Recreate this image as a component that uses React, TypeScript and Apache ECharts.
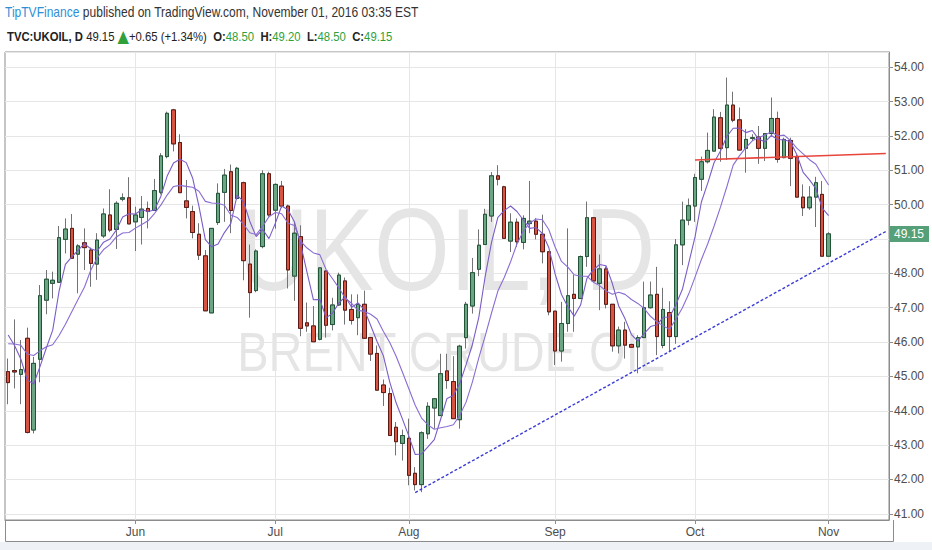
import React, { useEffect, useRef } from "react";
import * as echarts from "echarts";

// ---- data ----
const opens = [
  45.14, 45.17, 45.06, 46.11, 43.44, 45.5, 47.22, 47.71, 47.74, 48.99,
  49.31, 48.56, 48.89, 48.68, 48.27, 49.09, 49.7, 49.28, 50.16, 50.2,
  49.5, 49.63, 49.89, 49.83, 50.36, 51.4, 52.76, 51.81, 50.11, 49.8,
  49.14, 48.51, 46.85, 49.48, 50.36, 50.96, 50.18, 50.64, 48.27, 47.5,
  48.78, 50.9, 49.84, 50.54, 49.96, 47.92, 49.07, 46.56, 46.47, 46.08,
  48.07, 46.51, 47.08, 47.78, 46.95, 46.71, 47.1, 46.13, 45.67, 44.75,
  44.5, 43.52, 43.05, 43.2, 42.18, 41.85, 43.33, 44.08, 43.86, 45.16,
  44.85, 43.74, 46.13, 47.05, 48.12, 48.84, 49.67, 50.84, 50.52, 48.94,
  49.49, 48.9, 49.45, 49.52, 49.14, 48.63, 46.9, 45.74, 46.54, 47.39,
  47.27, 48.49, 49.62, 47.71, 48.13, 47.1, 45.89, 46.35, 45.93, 45.86,
  46.13, 47.0, 47.39, 45.9, 46.86, 46.16, 48.83, 49.55, 49.96, 50.74,
  51.25, 51.56, 52.53, 51.66, 52.9, 52.47, 51.64, 51.93, 51.97, 51.64,
  52.07, 52.51, 51.37, 51.87, 51.39, 50.22, 49.91, 50.22, 50.3, 48.5,
];
const closes = [
  44.82, 45.13, 45.2, 43.37, 45.38, 47.35, 47.83, 47.8, 49.04, 49.29,
  48.44, 48.8, 48.75, 48.29, 48.97, 49.73, 49.26, 50.04, 50.2, 49.44,
  49.7, 49.87, 49.8, 50.41, 51.42, 52.66, 51.77, 50.35, 49.92, 49.19,
  48.53, 46.91, 49.31, 50.33, 50.86, 49.83, 51.06, 48.37, 47.44, 48.65,
  50.9, 49.7, 50.59, 49.96, 48.1, 49.17, 46.4, 46.47, 46.01, 48.16,
  46.49, 47.08, 47.95, 46.93, 46.63, 47.1, 46.11, 45.65, 44.6, 44.53,
  43.28, 43.1, 43.28, 42.12, 41.85, 43.36, 44.13, 44.35, 45.08, 44.88,
  43.77, 45.88, 47.1, 48.02, 48.82, 49.72, 50.84, 50.74, 49.02, 49.49,
  48.92, 49.6, 49.52, 49.14, 48.63, 46.88, 45.74, 46.54, 47.35, 47.27,
  48.49, 49.62, 47.78, 48.13, 47.1, 45.89, 46.35, 45.91, 45.85, 46.13,
  47.0, 47.37, 46.16, 46.95, 46.16, 48.83, 49.55, 49.97, 50.79, 51.25,
  51.58, 52.55, 51.64, 52.9, 52.46, 51.59, 51.9, 51.95, 51.64, 52.07,
  52.51, 51.32, 51.9, 51.35, 50.22, 49.91, 50.22, 50.64, 48.5, 49.15,
];
const highs = [
  45.52, 46.66, 46.06, 46.42, 45.57, 47.66, 48.1, 48.05, 49.38, 49.6,
  49.73, 48.85, 49.31, 48.75, 49.17, 49.89, 50.45, 50.1, 50.33, 50.8,
  49.94, 50.25, 50.09, 50.75, 51.5, 52.71, 52.79, 52.05, 50.72, 49.97,
  49.46, 48.68, 49.31, 50.62, 51.04, 51.17, 51.1, 50.67, 48.84, 48.7,
  51.0, 50.96, 50.62, 50.69, 50.0, 49.5, 49.4, 47.15, 47.05, 48.16,
  48.07, 47.29, 48.02, 47.88, 47.39, 47.39, 47.5, 46.15, 45.9, 44.91,
  44.67, 43.67, 43.45, 43.77, 42.36, 43.4, 44.25, 44.35, 45.66, 45.66,
  45.59, 45.92, 47.17, 48.45, 49.28, 49.88, 50.95, 51.15, 50.55, 49.75,
  49.6, 49.69, 50.69, 49.61, 49.71, 48.63, 46.9, 47.17, 49.31, 47.95,
  48.52, 50.09, 49.62, 48.55, 48.2, 47.1, 46.45, 46.59, 45.95, 46.2,
  47.76, 47.76, 48.19, 47.58, 47.19, 49.0, 50.09, 50.18, 50.9, 51.4,
  52.1, 52.78, 52.7, 53.7, 53.29, 52.83, 52.2, 52.05, 52.29, 52.07,
  53.12, 52.71, 51.95, 51.95, 51.45, 50.59, 50.54, 50.81, 50.69, 49.2,
];
const lows = [
  44.19, 44.65, 44.19, 43.34, 43.34, 44.83, 46.81, 47.27, 47.74, 48.58,
  48.44, 47.42, 48.1, 47.61, 47.81, 49.03, 49.2, 48.71, 50.1, 49.44,
  48.65, 48.84, 49.31, 49.83, 50.3, 51.35, 51.55, 50.35, 49.6, 49.02,
  48.39, 46.91, 46.85, 49.41, 49.5, 49.17, 50.15, 47.8, 46.71, 47.45,
  48.73, 49.65, 49.3, 49.9, 47.56, 47.2, 46.17, 46.3, 46.0, 46.05,
  46.13, 46.34, 47.05, 46.51, 46.51, 46.2, 46.11, 45.45, 44.6, 44.14,
  43.28, 42.7, 42.55, 41.83, 41.68, 41.63, 43.18, 43.48, 43.86, 44.64,
  43.77, 43.48, 45.81, 46.83, 47.92, 48.84, 49.5, 50.56, 49.02, 48.62,
  48.77, 48.7, 49.17, 48.99, 48.29, 46.78, 45.33, 45.43, 46.3, 46.3,
  47.25, 48.19, 47.78, 46.93, 46.98, 45.72, 45.67, 45.52, 45.83, 45.09,
  46.13, 46.98, 45.62, 45.82, 45.72, 45.95, 48.24, 49.4, 49.5, 50.4,
  51.2, 51.56, 51.25, 51.3, 52.4, 51.59, 50.93, 51.85, 51.19, 51.27,
  51.98, 51.22, 51.35, 50.54, 50.22, 49.67, 49.85, 49.35, 48.5, 48.5,
];
// closes of the nine sessions before the visible window (estimated from the MA lines)
const priorCloses = [45.2, 45.6, 45.9, 45.8, 46.0, 46.65, 47.2, 46.37, 45.98];
const maPeriods = [5, 10];
const supportLine = [[64, 41.62], [138, 49.22]];
const resistanceLine = [[108, 51.3], [138, 51.49]];
const lastPrice = 49.15;
const firstSession = "2016-05-04";
const sessionSlots = 139; // 130 sessions + empty space on the right
const monthNames = ["Jan", "Feb", "Mar", "Apr", "May", "Jun", "Jul", "Aug", "Sep", "Oct", "Nov", "Dec"];

function businessDays(start: string, n: number): string[] {
  const out: string[] = [];
  const d = new Date(start + "T00:00:00Z");
  while (out.length < n) {
    const wd = d.getUTCDay();
    if (wd !== 0 && wd !== 6) out.push(d.toISOString().slice(0, 10));
    d.setUTCDate(d.getUTCDate() + 1);
  }
  return out;
}

function sma(period: number): number[] {
  const all = priorCloses.concat(closes);
  const off = priorCloses.length;
  return closes.map((_, i) => {
    let s = 0;
    for (let k = 0; k < period; k++) s += all[off + i - k];
    return +(s / period).toFixed(3);
  });
}

const FONT = "'Liberation Sans', Arial, sans-serif";

export default function App() {
  const ref = useRef<HTMLDivElement>(null);
  useEffect(() => {
    const el = ref.current!;
    const chart = echarts.init(el, undefined, { renderer: "svg" });
    const dates = businessDays(firstSession, sessionSlots);
    const isMonthStart = (i: number) => i > 0 && dates[i].slice(5, 7) !== dates[i - 1].slice(5, 7);
    const fullCandles = opens.map((o, i) => [o, closes[i], lows[i], highs[i]]);
    const bodies = opens.map((o, i) => [o, closes[i], Math.min(o, closes[i]), Math.max(o, closes[i])]);

    const option: any = {
      animation: false,
      backgroundColor: "#ffffff",
      grid: {
        left: 5,
        right: 43,
        top: 52,
        bottom: 30,
        show: true,
        borderColor: "#8c8c8c",
        borderWidth: 1,
      },
      xAxis: {
        type: "category",
        data: dates,
        boundaryGap: true,
        axisLine: { show: true, lineStyle: { color: "#8c8c8c" } },
        axisTick: {
          show: true,
          alignWithLabel: true,
          length: 4,
          interval: (i: number) => isMonthStart(i),
          lineStyle: { color: "#8c8c8c" },
        },
        axisLabel: {
          interval: (i: number) => isMonthStart(i),
          formatter: (v: string) => monthNames[parseInt(v.slice(5, 7), 10) - 1],
          color: "#4d4d4d",
          fontSize: 12,
          fontFamily: FONT,
          margin: 6,
        },
        splitLine: {
          show: true,
          alignWithLabel: true,
          interval: (i: number) => isMonthStart(i),
          lineStyle: { color: "#e6e6e6" },
        },
      },
      yAxis: {
        type: "value",
        position: "right",
        min: 40.82,
        max: 54.445,
        minInterval: 1,
        maxInterval: 1,
        splitNumber: 13,
        axisLine: { show: true, lineStyle: { color: "#8c8c8c" } },
        axisTick: { show: true, length: 4, lineStyle: { color: "#8c8c8c" } },
        axisLabel: {
          color: "#4d4d4d",
          fontSize: 12,
          fontFamily: FONT,
          margin: 5,
          showMinLabel: false,
          showMaxLabel: false,
          // the last-price tag covers the label nearest to it
          formatter: (v: number) =>
            Math.abs(v - Math.round(v)) < 1e-6 && Math.abs(v - lastPrice) > 0.4 ? v.toFixed(2) : "",
        },
        splitLine: { show: true, lineStyle: { color: "#e6e6e6" } },
      },
      graphic: [
        {
          type: "text",
          x: 447,
          y: 250,
          z: 0,
          scaleX: 0.84,
          silent: true,
          style: {
            text: "UKOIL, D",
            fontSize: 116,
            fontFamily: FONT,
            fill: "rgba(0,0,0,0.1)",
            textAlign: "center",
            textVerticalAlign: "middle",
          },
        },
        {
          type: "text",
          x: 451,
          y: 352,
          z: 0,
          scaleX: 0.84,
          silent: true,
          style: {
            text: "BRENT CRUDE OIL",
            fontSize: 56,
            fontFamily: FONT,
            fill: "rgba(0,0,0,0.1)",
            textAlign: "center",
            textVerticalAlign: "middle",
          },
        },
        {
          type: "text",
          x: 5,
          y: 5,
          scaleX: 0.86,
          style: {
            text: "{a|TipTVFinance} {b|published on TradingView.com, November 01, 2016 03:35 EST}",
            fontFamily: FONT,
            fontSize: 14,
            rich: {
              a: { fill: "#2f8fd6", fontSize: 14, fontFamily: FONT },
              b: { fill: "#333333", fontSize: 14, fontFamily: FONT },
            },
          },
        },
        {
          type: "text",
          x: 7,
          y: 28,
          scaleX: 0.87,
          style: {
            text:
              "{b|TVC:UKOIL, D} {n|49.15} {t|▲}{n|+0.65 (+1.34%)}  {b|O:}{g|48.50}  {b|H:}{g|49.20}  {b|L:}{g|48.50}  {b|C:}{g|49.15}",
            fontFamily: FONT,
            fontSize: 13,
            rich: {
              b: { fill: "#222222", fontSize: 13, fontWeight: "bold", fontFamily: FONT },
              n: { fill: "#222222", fontSize: 13, fontFamily: FONT },
              g: { fill: "#2ea13a", fontSize: 13, fontFamily: FONT },
              t: { fill: "#2ea13a", fontSize: 17, fontFamily: "'DejaVu Sans', sans-serif" },
            },
          },
        },
        {
          type: "polyline",
          silent: true,
          shape: { points: [[5.5, 520], [5.5, 541.5], [893.5, 541.5], [893.5, 520]] },
          style: { stroke: "#8c8c8c", lineWidth: 1, fill: "none" },
        },
        {
          type: "rect",
          silent: true,
          shape: { x: 0, y: 542, width: 932, height: 8 },
          style: { fill: "#eef1f5" },
        },
      ],
      series: [
        {
          type: "candlestick",
          name: "wicks",
          data: fullCandles,
          barWidth: 4,
          z: 3,
          itemStyle: {
            color: "#6ba583",
            color0: "#d75442",
            borderColor: "#737375",
            borderColor0: "#737375",
            borderWidth: 1,
          },
        },
        {
          type: "candlestick",
          name: "bodies",
          data: bodies,
          barWidth: 4,
          z: 4,
          itemStyle: {
            color: "#6ba583",
            color0: "#d75442",
            borderColor: "#225437",
            borderColor0: "#5b1a13",
            borderWidth: 1,
          },
        },
        ...maPeriods.map((p, k) => ({
          type: "line",
          name: "SMA" + p,
          data: sma(p),
          symbol: "none",
          smooth: false,
          z: 5,
          lineStyle: { color: k === 0 ? "#7a5cc8" : "#8a6dd3", width: 1.1 },
        })),
        {
          type: "line",
          name: "support",
          data: supportLine,
          symbol: "none",
          z: 6,
          lineStyle: { color: "#3b3bd6", width: 1.4, type: [3, 2] },
        },
        {
          type: "line",
          name: "resistance",
          data: resistanceLine,
          symbol: "none",
          z: 6,
          lineStyle: { color: "#e8453c", width: 1.6 },
        },
        {
          type: "line",
          name: "last price",
          data: [],
          symbol: "none",
          z: 10,
          markLine: {
            silent: true,
            symbol: ["none", "none"],
            lineStyle: { color: "rgba(0,0,0,0)", width: 1, type: "solid" },
            data: [{ yAxis: lastPrice }],
            label: {
              show: true,
              position: "end",
              distance: 1,
              formatter: lastPrice.toFixed(2),
              backgroundColor: "#55a078",
              color: "#ffffff",
              fontSize: 12,
              fontFamily: FONT,
              padding: [2, 5, 2, 4],
            },
          },
        },
      ],
    };
    chart.setOption(option);
    return () => chart.dispose();
  }, []);
  return <div ref={ref} style={{ position: "fixed", left: 0, top: 0, width: 932, height: 550 }} />;
}
